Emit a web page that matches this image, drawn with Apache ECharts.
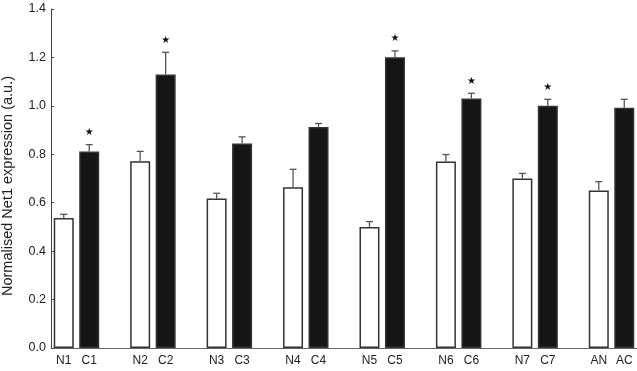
<!DOCTYPE html>
<html>
<head>
<meta charset="utf-8">
<script src="https://cdn.jsdelivr.net/npm/echarts@6/dist/echarts.min.js"></script>
<style>
  html, body { margin: 0; padding: 0; background: #fff; }
  #chart { width: 637px; height: 371px; }
</style>
</head>
<body>
<div id="chart"></div>
<script>
// group labels (normal / cancer pairs)
const normalLabels = ['N1', 'N2', 'N3', 'N4', 'N5', 'N6', 'N7', 'AN']
const cancerLabels = ['C1', 'C2', 'C3', 'C4', 'C5', 'C6', 'C7', 'AC']
// means and upper error bars
const normalMeans = [0.537, 0.771, 0.617, 0.664, 0.500, 0.770, 0.700, 0.650]
const normalErrors = [0.015, 0.041, 0.022, 0.074, 0.022, 0.029, 0.021, 0.037]
const cancerMeans = [0.812, 1.129, 0.845, 0.913, 1.201, 1.030, 1.000, 0.992]
const cancerErrors = [0.028, 0.092, 0.027, 0.014, 0.026, 0.022, 0.027, 0.035]
const significant = [true, true, false, false, true, true, true, false]
const yTicks = [0, 0.2, 0.4, 0.6, 0.8, 1.0, 1.2, 1.4]

const font = 'Liberation Sans, Arial, sans-serif'

// one slot per bar plus a blank slot between groups
const categories = []
const barData = []
const errData = []
normalLabels.forEach((n, i) => {
  categories.push(n)
  barData.push({ value: normalMeans[i], itemStyle: { color: '#fff' } })
  errData.push([categories.length - 1, normalMeans[i], normalErrors[i], 0])
  categories.push(cancerLabels[i])
  barData.push({ value: cancerMeans[i], itemStyle: { color: '#151515' } })
  errData.push([categories.length - 1, cancerMeans[i], cancerErrors[i], significant[i] ? 1 : 0])
  if (i < normalLabels.length - 1) {
    categories.push('')
    barData.push('-')
  }
})

const chart = echarts.init(document.getElementById('chart'))
chart.setOption({
  animation: false,
  grid: { left: 51, right: 0, top: 9, bottom: 23, outerBoundsMode: 'none', containLabel: false },
  xAxis: {
    type: 'category',
    data: categories,
    axisLine: { lineStyle: { color: '#666', width: 1 } },
    axisTick: { show: false },
    axisLabel: { interval: 0, color: '#222', fontSize: 12, fontFamily: font, margin: 7 }
  },
  yAxis: {
    type: 'value',
    min: yTicks[0],
    max: yTicks[yTicks.length - 1],
    interval: 0.2,
    name: 'Normalised Net1 expression (a.u.)',
    nameLocation: 'middle',
    nameGap: 36,
    nameTextStyle: { color: '#222', fontSize: 14.5, fontFamily: font, padding: [0, 0, 0, -15] },
    axisLine: { show: true, lineStyle: { color: '#444', width: 1 } },
    axisTick: { show: true, inside: true, length: 3, lineStyle: { color: '#444' } },
    axisLabel: {
      color: '#222', fontSize: 12.5, fontFamily: font, margin: 5,
      formatter: v => v.toFixed(1)
    },
    splitLine: { show: false }
  },
  series: [
    {
      type: 'bar',
      data: barData,
      barWidth: 20,
      itemStyle: { borderColor: '#333', borderWidth: 1.5 }
    },
    {
      type: 'custom',
      data: errData,
      z: 5,
      renderItem(params, api) {
        const x = api.value(0)
        const mean = api.value(1)
        const err = api.value(2)
        const base = api.coord([x, mean])
        const top = api.coord([x, mean + err])
        const children = [
          { type: 'line', shape: { x1: base[0], y1: base[1], x2: top[0], y2: top[1] }, style: { stroke: '#555', lineWidth: 1.3 } },
          { type: 'line', shape: { x1: top[0] - 3.5, y1: top[1], x2: top[0] + 3.5, y2: top[1] }, style: { stroke: '#555', lineWidth: 1.3 } }
        ]
        if (api.value(3)) {
          children.push({
            type: 'text',
            style: { text: '★', x: top[0], y: top[1] - 12, align: 'center', verticalAlign: 'middle', fill: '#111', font: '10px DejaVu Sans' }
          })
        }
        return { type: 'group', children }
      }
    }
  ]
})
</script>
</body>
</html>
